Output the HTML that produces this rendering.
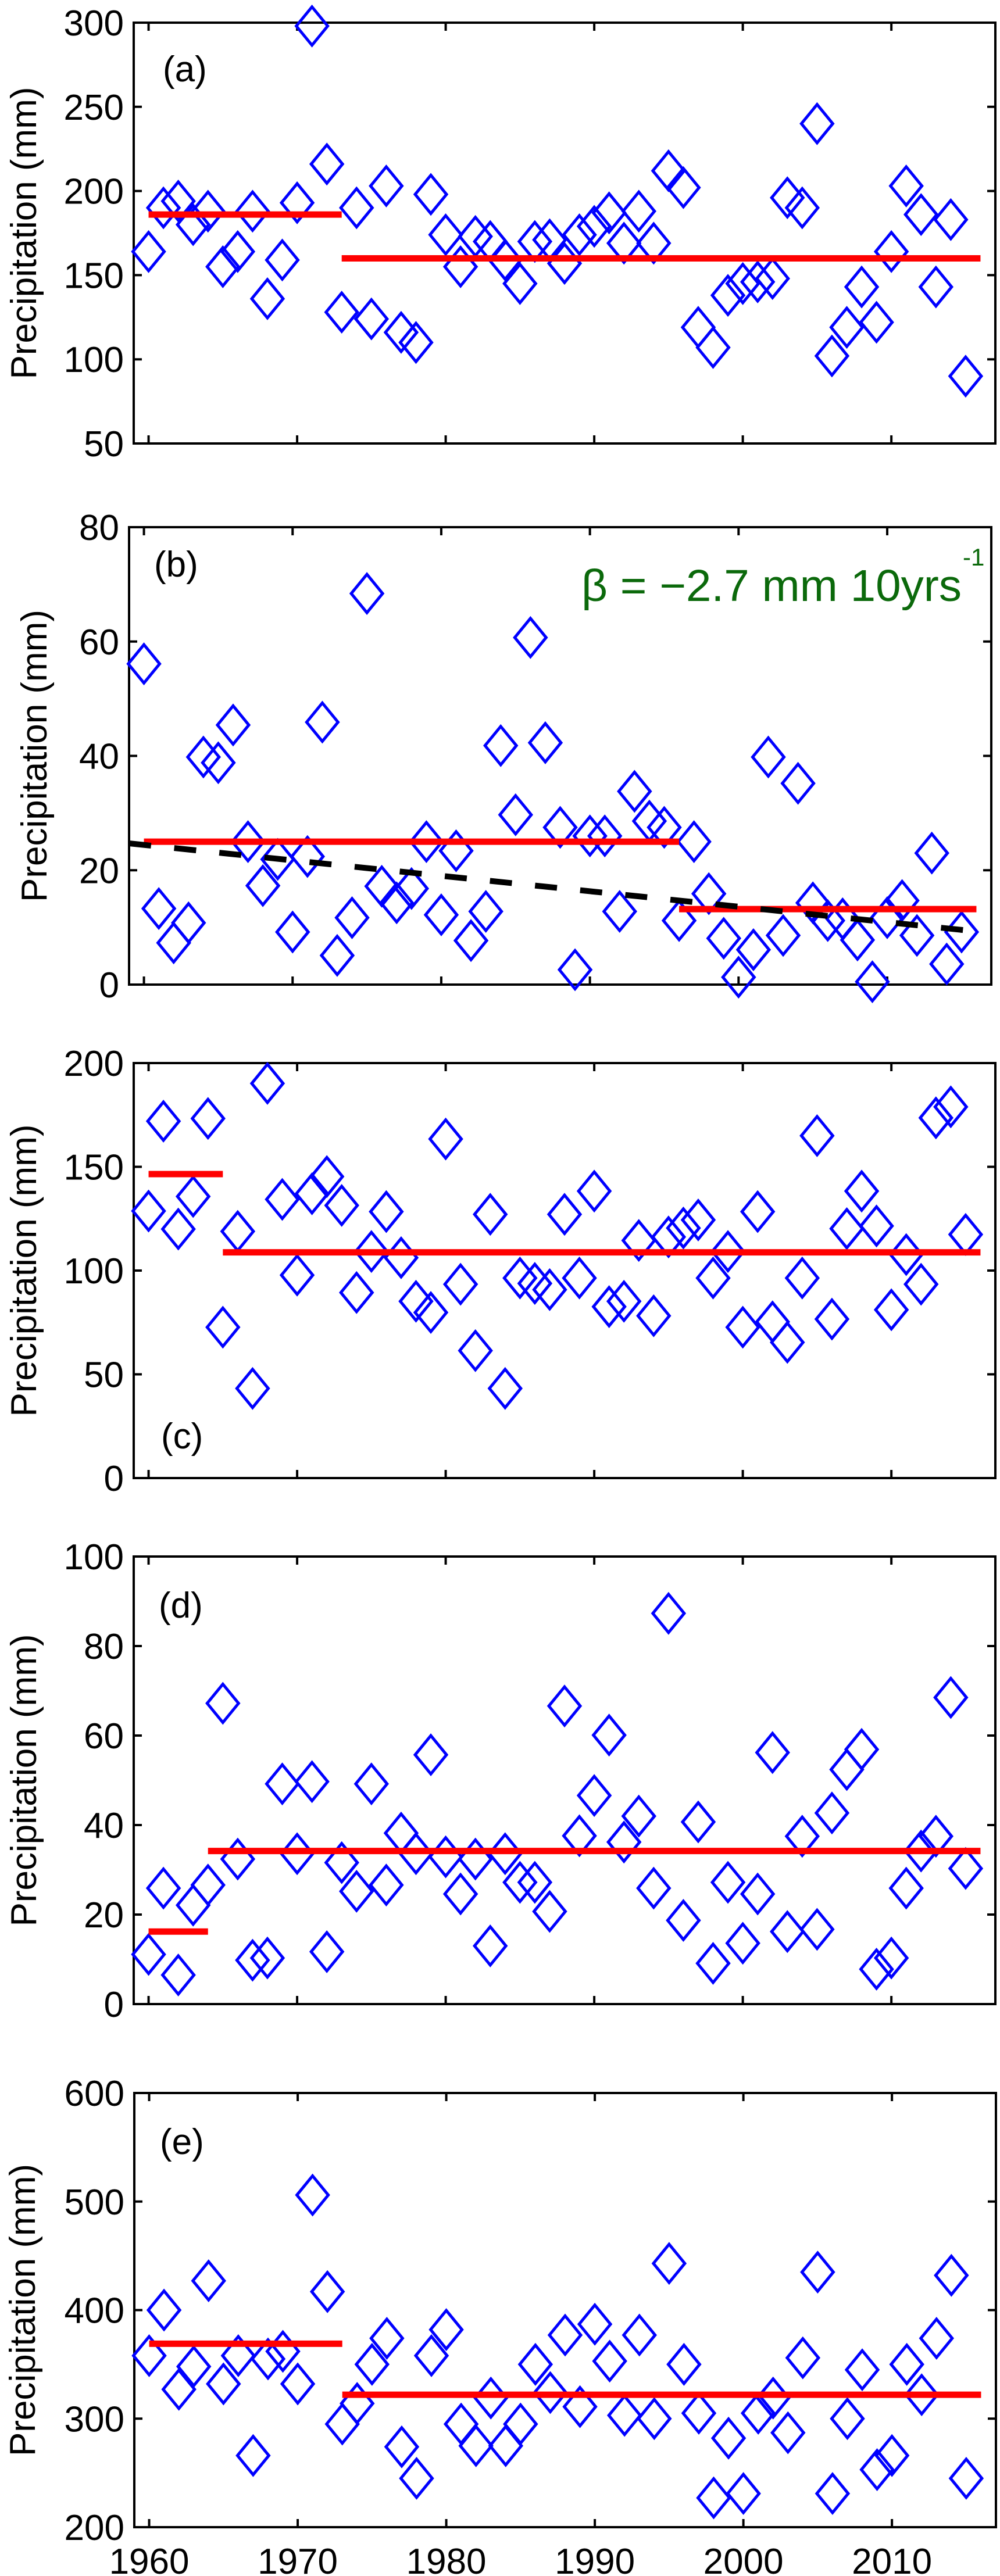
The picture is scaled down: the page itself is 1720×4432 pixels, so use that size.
<!DOCTYPE html>
<html><head><meta charset="utf-8"><style>
html,body{margin:0;padding:0;background:#fff;}
svg{display:block;font-family:"Liberation Sans",sans-serif;}
</style></head><body>
<svg id="fig" width="1720" height="4432" viewBox="0 0 1720 4432" xmlns="http://www.w3.org/2000/svg"></svg>
<script>
const years = [];
for (let y = 1960; y <= 2015; y++) years.push(y);
const xTicks = [1960, 1970, 1980, 1990, 2000, 2010];

const valuesA = [164,190,194,180,188,155,164,188,136,159,193,298,216,128,190,124,203,116,110,198,174,155,173,170,159,145,170,171,157,174,179,187,169,188,169,212,202,119,107,138,145,146,148,196,190,240,102,119,143,122,164,203,186,143,183,90];
const meansA = [{from:1960,to:1973,v:186},{from:1973,to:2016,v:160}];
const ticksA = [50,100,150,200,250,300];

const valuesB = [56.1,13.3,7.3,10.8,39.8,38.8,45.4,25,17.3,21.9,9.2,22.4,45.9,5.1,11.7,68.4,17.2,14.3,16.8,25,12.2,23.4,7.7,12.8,41.8,29.7,60.7,42.3,27.5,2.6,26,26,12.8,33.8,28.6,27.5,11.2,25,15.9,8.1,1.3,6.1,39.8,8.6,35.2,14.3,11.2,11.5,7.8,0.5,11.7,14.7,8.6,23,3.6,9.2];
const meansB = [{from:1960,to:1996,v:25},{from:1996,to:2016,v:13.2}];
const ticksB = [0,20,40,60,80];
const trendYears = [1959, 2016];
const trendValues = [24.7, 9.3];

const valuesC = [128.7,172,120,135.7,173.3,72.7,118.9,43.2,190.2,134.3,97.8,137,145.3,131.4,89.4,109.2,128.4,106.2,85.2,79.8,163.4,93.4,61.4,127.1,43.2,96.4,93.8,90.8,127.1,96.4,138.3,82.6,85.2,114.5,78.2,116.2,120.5,124.4,96.4,109.2,72.7,128.4,75.3,65.4,96.4,165,76.6,120.2,138.3,121.5,81.1,107.7,93.4,173.6,178.9,117.4];
const meansC = [{from:1960,to:1965,v:146.5},{from:1965,to:2016,v:108.8}];
const ticksC = [0,50,100,150,200];

const valuesD = [11.1,25.9,6.5,22.1,26.6,67.2,32.4,9.8,10.3,49.2,33.6,49.7,11.7,31.6,25.2,49.2,26.6,38.2,33.6,55.7,32.9,24.6,32.4,13,33.6,27.2,27.2,20.7,66.6,37.6,46.6,60.1,36.2,42,25.9,87.3,18.7,40.7,9.1,27.2,13.6,24.6,56.2,16.2,37.5,16.7,42.7,52.4,56.9,7.8,10.3,25.9,34.2,37.5,68.5,30.3];
const meansD = [{from:1960,to:1964,v:16.2},{from:1964,to:2016,v:34.2}];
const ticksD = [0,20,40,60,80,100];

const valuesE = [358,400,327,348,427,332,358,266,355,362,332,506,417,295,314,350,374,274,245,358,382,295,275,319,275,295,350,324,377,311,387,353,303,377,300,443,350,305,227,282,231,305,319,287,356,435,231,300,345,253,266,350,322,374,432,245];
const meansE = [{from:1960,to:1973,v:369},{from:1973,to:2016,v:322}];
const ticksE = [200,300,400,500,600];

const NS = "http://www.w3.org/2000/svg";
const svg = document.getElementById('fig');
function mk(tag, attrs, parent) {
  const e = document.createElementNS(NS, tag);
  for (const k in attrs) e.setAttribute(k, attrs[k]);
  (parent || svg).appendChild(e);
  return e;
}

function panel(id, box, yMin, yMax, yTicks, values, means, letter, letterPos, ylabelX, showX) {
  const g = mk('g', {});
  
  
  const xs = v => box.l + (v - 1959) / (2017 - 1959) * (box.r - box.l);
  const ys = v => box.b - (v - yMin) / (yMax - yMin) * (box.b - box.t);
  const frame = mk('rect', {x: box.l, y: box.t, width: box.r - box.l, height: box.b - box.t, fill: 'none', stroke: '#000', 'stroke-width': 4}, g);
  
  
  xTicks.forEach(t => {
    const x = xs(t);
    const tk = mk('path', {d: `M${x},${box.b}v-14M${x},${box.t}v14`, stroke: '#000', 'stroke-width': 4}, g);
    
    
    if (showX) {
      const tl = mk('text', {x: x, y: box.b + 80, 'font-size': 62, 'text-anchor': 'middle', fill: '#000'}, g);
      tl.textContent = t;
      
      
    }
  });
  yTicks.forEach(t => {
    const y = ys(t);
    const tk = mk('path', {d: `M${box.l},${y}h14M${box.r},${y}h-14`, stroke: '#000', 'stroke-width': 4}, g);
    
    
    const tl = mk('text', {x: box.l - 17, y: y + 22, 'font-size': 62, 'text-anchor': 'end', fill: '#000'}, g);
    tl.textContent = t;
    
    
  });
  const cy = (box.t + box.b) / 2;
  const yl = mk('text', {x: ylabelX, y: cy, 'font-size': 62, 'text-anchor': 'middle', transform: `rotate(-90 ${ylabelX} ${cy})`, dy: 22, fill: '#000'}, g);
  yl.textContent = 'Precipitation (mm)';
  
  
  const lt = mk('text', {x: letterPos[0], y: letterPos[1], 'font-size': 62, fill: '#000'}, g);
  lt.textContent = letter;
  
  
  values.forEach((v, i) => {
    const x = xs(years[i]), y = ys(v);
    const d = mk('path', {d: `M${x},${y-33}L${x+27},${y}L${x},${y+33}L${x-27},${y}Z`, fill: 'none', stroke: '#0000ff', 'stroke-width': 5}, g);
    
    
  });
  means.forEach(m => {
    const ln = mk('line', {x1: xs(m.from), x2: xs(m.to), y1: ys(m.v), y2: ys(m.v), stroke: '#ff0000', 'stroke-width': 11}, g);
    
    
  });
  return {g, xs, ys};
}

panel('a', {l:230, r:1712, t:39, b:763}, 50, 300, ticksA, valuesA, meansA, '(a)', [280, 140], 40, false);
const pb = panel('b', {l:222, r:1705, t:907, b:1694}, 0, 80, ticksB, valuesB, meansB, '(b)', [265, 992], 58, false);
const tr = mk('line', {x1: pb.xs(trendYears[0]), x2: pb.xs(trendYears[1]), y1: pb.ys(trendValues[0]), y2: pb.ys(trendValues[1]), stroke: '#000', 'stroke-width': 10, 'stroke-dasharray': '38 40'}, pb.g);


const bt = mk('text', {x: 1000, y: 1034, 'font-size': 77, fill: '#0b690b', textLength: 654, lengthAdjust: 'spacingAndGlyphs'}, pb.g);
bt.textContent = 'β = −2.7 mm 10yrs';


const bs = mk('text', {x: 1656, y: 973, 'font-size': 42, fill: '#0b690b'}, pb.g);
bs.textContent = '-1';


panel('c', {l:230, r:1712, t:1829, b:2543}, 0, 200, ticksC, valuesC, meansC, '(c)', [277, 2492], 40, false);
panel('d', {l:230, r:1712, t:2678, b:3448}, 0, 100, ticksD, valuesD, meansD, '(d)', [273, 2783], 40, false);
panel('e', {l:231, r:1713, t:3601, b:4348}, 200, 600, ticksE, valuesE, meansE, '(e)', [275, 3706], 38, true);
</script>
</body></html>
